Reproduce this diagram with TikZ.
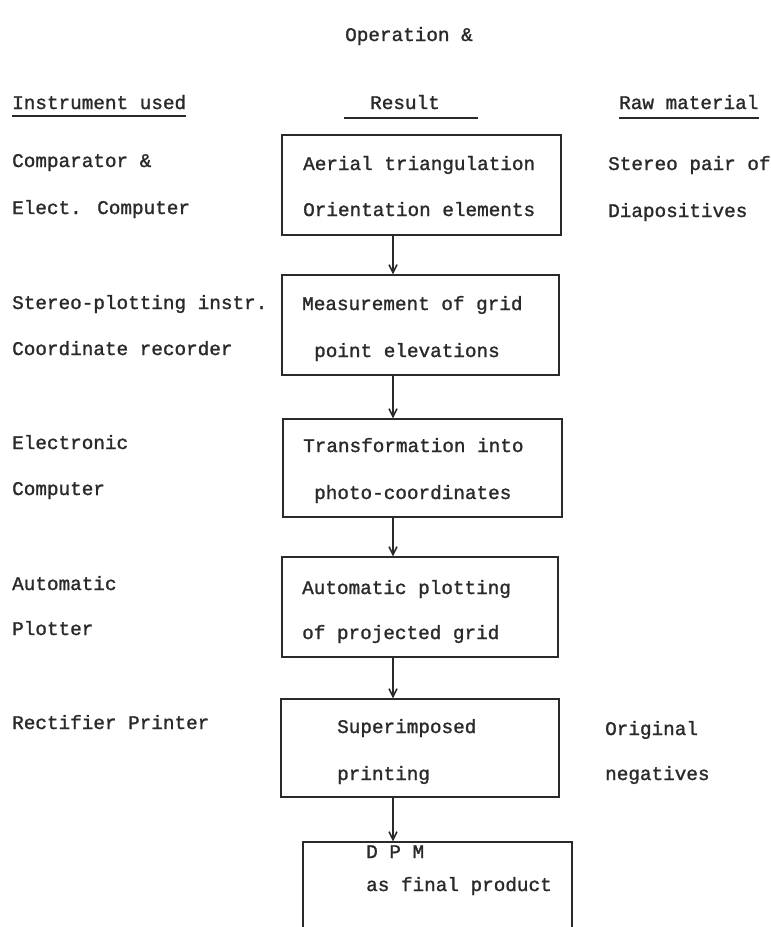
\documentclass[tikz,border=0pt]{standalone}
\usepackage{fontspec}
\newfontfamily\tw[FakeBold=1.3]{Liberation Mono}
\usetikzlibrary{arrows.meta}
\definecolor{ink}{HTML}{2A2A2A}
\begin{document}
\begin{tikzpicture}[x=1bp,y=-1bp,
  lbl/.style={anchor=base west, inner sep=0pt, text=ink, font=\tw\fontsize{19.4}{22}\selectfont},
  box/.style={draw=ink, line width=1.4bp, rectangle, inner sep=0pt},
  arr/.style={draw=ink, line width=1.3bp, -{Straight Barb[length=8bp,width=8bp,line width=1.5bp]}},
  ul/.style={draw=ink, line width=2bp}]
\clip (0,0) rectangle (771,927);
\fill[white] (0,0) rectangle (771,927);

% headings
\node[lbl] (hop) at (345,41) {Operation \&};
\node[lbl] (hin) at (12,109) {Instrument used};
\node[lbl] (hre) at (370,109) {Result};
\node[lbl] (hra) at (619,109) {Raw material};
\draw[ul] ([yshift=-7bp]hin.base west) -- ([yshift=-7bp]hin.base east);
\draw[ul] ([xshift=-26bp,yshift=-9bp]hre.base west) -- ([xshift=38bp,yshift=-9bp]hre.base east);
\draw[ul] ([yshift=-9bp]hra.base west) -- ([yshift=-9bp]hra.base east);

% boxes
\node[box, minimum width=279bp, minimum height=100bp] (b1) at (421.5,185) {};
\node[box, minimum width=277bp, minimum height=100bp] (b2) at (420.5,325) {};
\node[box, minimum width=279bp, minimum height=98bp] (b3) at (422.5,468) {};
\node[box, minimum width=276bp, minimum height=100bp] (b4) at (420,607) {};
\node[box, minimum width=278bp, minimum height=98bp] (b5) at (420,748) {};
\node[box, minimum width=269bp, minimum height=120bp] (b6) at (437.5,902) {};

% arrows
\coordinate (ax) at (393,0);
\draw[arr] (b1.south -| ax) -- (b2.north -| ax);
\draw[arr] (b2.south -| ax) -- (b3.north -| ax);
\draw[arr] (b3.south -| ax) -- (b4.north -| ax);
\draw[arr] (b4.south -| ax) -- (b5.north -| ax);
\draw[arr] (b5.south -| ax) -- (b6.north -| ax);

% box texts
\node[lbl] (t1a) at (303,170) {Aerial triangulation};
\node[lbl] (t1b) at (303,216) {Orientation elements};
\node[lbl] (t2a) at (302,310) {Measurement of grid};
\node[lbl] (t2b) at (314,357) {point elevations};
\node[lbl] (t3a) at (303,452) {Transformation into};
\node[lbl] (t3b) at (314,499) {photo-coordinates};
\node[lbl] (t4a) at (302,594) {Automatic plotting};
\node[lbl] (t4b) at (302,639) {of projected grid};
\node[lbl] (t5a) at (337,733) {Superimposed};
\node[lbl] (t5b) at (337,780) {printing};
\node[lbl] (t6a) at (366,858) {D P M};
\node[lbl] (t6b) at (366,891) {as final product};

% instruments
\node[lbl] (i1a) at (12,167) {Comparator \&};
\node[lbl] (i1b) at (12,214) {Elect. Computer};
\node[lbl] (i2a) at (12,309) {Stereo-plotting instr.};
\node[lbl] (i2b) at (12,355) {Coordinate recorder};
\node[lbl] (i3a) at (12,449) {Electronic};
\node[lbl] (i3b) at (12,495) {Computer};
\node[lbl] (i4a) at (12,590) {Automatic};
\node[lbl] (i4b) at (12,635) {Plotter};
\node[lbl] (i5a) at (12,729) {Rectifier Printer};

% raw material
\node[lbl] (r1a) at (608,170) {Stereo pair of};
\node[lbl] (r1b) at (608,217) {Diapositives};
\node[lbl] (r5a) at (605,735) {Original};
\node[lbl] (r5b) at (605,780) {negatives};
\end{tikzpicture}
\end{document}
